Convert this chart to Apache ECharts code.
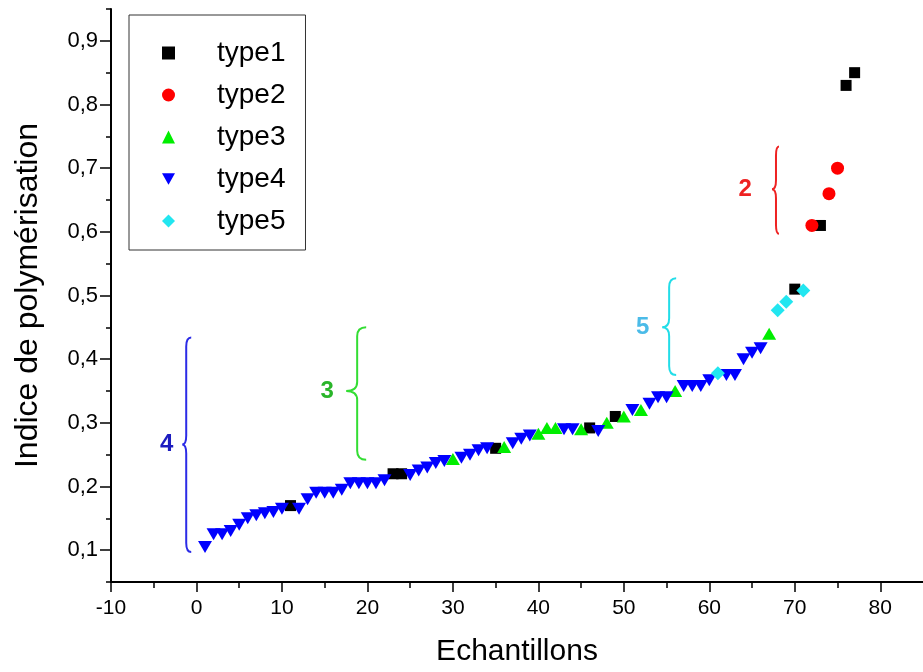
<!DOCTYPE html>
<html><head><meta charset="utf-8">
<script src="https://cdn.jsdelivr.net/npm/echarts@6/dist/echarts.min.js"></script>
<style>html,body{margin:0;padding:0;background:#fff}#c{width:923px;height:672px}</style>
</head><body><div id="c"></div>
<script>
// ---- data ----
const seriesNames = ['type1', 'type2', 'type3', 'type4', 'type5'];
const type1 = [[11,0.17],[23,0.22],[24,0.22],[35,0.26],[46,0.292],[49,0.31],[70,0.51],[73,0.61],[76,0.83],[77,0.85]];
const type2 = [[72,0.61],[74,0.66],[75,0.70]];
const type3 = [[30,0.243],[36,0.262],[40,0.283],[41,0.292],[42,0.292],[45,0.29],[48,0.30],[50,0.31],[52,0.32],[56,0.35],[67,0.44]];
const type4 = [[1,0.105],[2,0.125],[3,0.125],[4,0.13],[5,0.14],[6,0.15],[7,0.155],[8,0.158],[9,0.16],[10,0.165],
  [12,0.165],[13,0.18],[14,0.19],[15,0.19],[16,0.19],[17,0.195],[18,0.205],[19,0.205],[20,0.205],[21,0.205],[22,0.21],
  [25,0.218],[26,0.225],[27,0.23],[28,0.237],[29,0.24],[31,0.245],[32,0.25],[33,0.257],[34,0.26],
  [37,0.268],[38,0.275],[39,0.28],[43,0.29],[44,0.29],[47,0.287],[51,0.32],[53,0.33],[54,0.34],[55,0.34],
  [57,0.358],[58,0.358],[59,0.358],[60,0.367],[62,0.375],[63,0.375],[64,0.40],[65,0.41],[66,0.417]];
const type5 = [[61,0.378],[68,0.477],[69,0.49],[71,0.508]];

const xMajorTicks = [-10,0,10,20,30,40,50,60,70,80];
const xMinorTicks = [-5,5,15,25,35,45,55,65,75];
const yMajorTicks = [0.1,0.2,0.3,0.4,0.5,0.6,0.7,0.8,0.9];
const yMinorTicks = [0.05,0.15,0.25,0.35,0.45,0.55,0.65,0.75,0.85,0.95];

// group braces (data coordinates)
const braceLabels = ['4','3','5','2'];
const braceX = [-1.2, 18.8, 55.3, 67.8];
const braceLow = [0.097, 0.242, 0.375, 0.597];
const braceHigh = [0.434, 0.45, 0.527, 0.734];
const braceMid = [0.266, 0.35, 0.45, 0.667];
const braceLabelX = [-3.5, 15.3, 52.2, 64.2];

// ---- styles ----
const FONT = 'Liberation Sans, Arial, sans-serif';
const braceColors = ['#2b2be6', '#33dd33', '#22dde8', '#ee2222'];
const braceLabelColors = ['#1c1cbf', '#2ab52a', '#4bbbe8', '#ee2222'];
const braceCurl = [5, 9, 7, 3];
const braceTip = [4, 11, 7, 4];
const braceData = braceLabels.map((l, i) => [braceX[i], braceLow[i], braceHigh[i], braceMid[i], braceLabelX[i]]);

const chart = echarts.init(document.getElementById('c'), null, {renderer: 'canvas'});
const fmt = v => (Math.round(v * 10) / 10).toFixed(1).replace('.', ',');

chart.setOption({
  animation: false,
  backgroundColor: '#fff',
  grid: {left: 111, right: -5, top: 9, bottom: 87, containLabel: false},
  legend: {
    data: seriesNames, orient: 'vertical', left: 129, top: 15,
    itemWidth: 13, itemHeight: 13, itemGap: 14,
    padding: [24, 20, 15, 33], borderColor: '#333', borderWidth: 1,
    textStyle: {fontSize: 28, fontFamily: FONT, color: '#000', padding: [0, 0, 0, 37]},
    selectedMode: false
  },
  xAxis: [{
    type: 'value', position: 'bottom', min: -10, max: 85,
    name: 'Echantillons', nameLocation: 'middle', nameGap: 55,
    nameTextStyle: {fontSize: 30, fontFamily: FONT, color: '#000'},
    axisLine: {show: true, onZero: false, lineStyle: {color: '#000', width: 2}},
    axisTick: {show: true, customValues: xMajorTicks, length: 10, lineStyle: {color: '#000', width: 1.5}},
    axisLabel: {customValues: xMajorTicks, fontSize: 21, fontFamily: FONT, color: '#000', margin: 16},
    splitLine: {show: false}
  }, {
    type: 'value', position: 'bottom', min: -10, max: 85,
    axisLine: {show: false, onZero: false},
    axisTick: {show: true, customValues: xMinorTicks, length: 6, lineStyle: {color: '#000', width: 1.5}},
    axisLabel: {show: false}, splitLine: {show: false}
  }],
  yAxis: [{
    type: 'value', position: 'left', min: 0.05, max: 0.95,
    name: 'Indice de polymérisation', nameLocation: 'middle', nameGap: 67,
    nameTextStyle: {fontSize: 32, fontFamily: FONT, color: '#000'},
    axisLine: {show: true, onZero: false, lineStyle: {color: '#000', width: 2}},
    axisTick: {show: true, customValues: yMajorTicks, length: 11, lineStyle: {color: '#000', width: 1.5}},
    axisLabel: {customValues: yMajorTicks, formatter: fmt, fontSize: 22, fontFamily: FONT, color: '#000', margin: 13},
    splitLine: {show: false}
  }, {
    type: 'value', position: 'left', min: 0.05, max: 0.95,
    axisLine: {show: false, onZero: false},
    axisTick: {show: true, customValues: yMinorTicks, length: 5, lineStyle: {color: '#000', width: 1.5}},
    axisLabel: {show: false}, splitLine: {show: false}
  }],
  series: [
    {name: 'type1', type: 'scatter', data: type1, symbol: 'rect', symbolSize: 11, itemStyle: {color: '#000000', opacity: 1}},
    {name: 'type2', type: 'scatter', data: type2, symbol: 'circle', symbolSize: 13, itemStyle: {color: '#ff0000', opacity: 1}},
    {name: 'type3', type: 'scatter', data: type3, symbol: 'triangle', symbolSize: [14, 12], itemStyle: {color: '#00ee00', opacity: 1}},
    {name: 'type4', type: 'scatter', data: type4, symbol: 'path://M0,0L10,0L5,9Z', symbolSize: [14, 12], itemStyle: {color: '#0000ff', opacity: 1}},
    {name: 'type5', type: 'scatter', data: type5, symbol: 'diamond', symbolSize: [14, 14], itemStyle: {color: '#22e6f0', opacity: 1}},
    {
      name: 'braces', type: 'custom', silent: true, data: braceData,
      renderItem: function (params, api) {
        const i = params.dataIndex;
        const top = api.coord([api.value(0), api.value(2)]);
        const bot = api.coord([api.value(0), api.value(1)]);
        const mid = api.coord([api.value(0), api.value(3)]);
        const lab = api.coord([api.value(4), api.value(3)]);
        const x = top[0], w = braceCurl[i], t = braceTip[i], r = 9;
        const d = 'M' + (x + w) + ',' + top[1] +
          ' Q' + x + ',' + top[1] + ' ' + x + ',' + (top[1] + r) +
          ' L' + x + ',' + (mid[1] - r) +
          ' Q' + x + ',' + mid[1] + ' ' + (x - t) + ',' + mid[1] +
          ' Q' + x + ',' + mid[1] + ' ' + x + ',' + (mid[1] + r) +
          ' L' + x + ',' + (bot[1] - r) +
          ' Q' + x + ',' + bot[1] + ' ' + (x + w) + ',' + bot[1];
        return {
          type: 'group',
          children: [
            {type: 'path', shape: {pathData: d}, style: {fill: null, stroke: braceColors[i], lineWidth: 2}},
            {type: 'text', style: {text: braceLabels[i], x: lab[0], y: lab[1], fill: braceLabelColors[i],
              font: 'bold 24px ' + FONT, align: 'center', verticalAlign: 'middle'}}
          ]
        };
      }
    }
  ]
});
</script></body></html>
